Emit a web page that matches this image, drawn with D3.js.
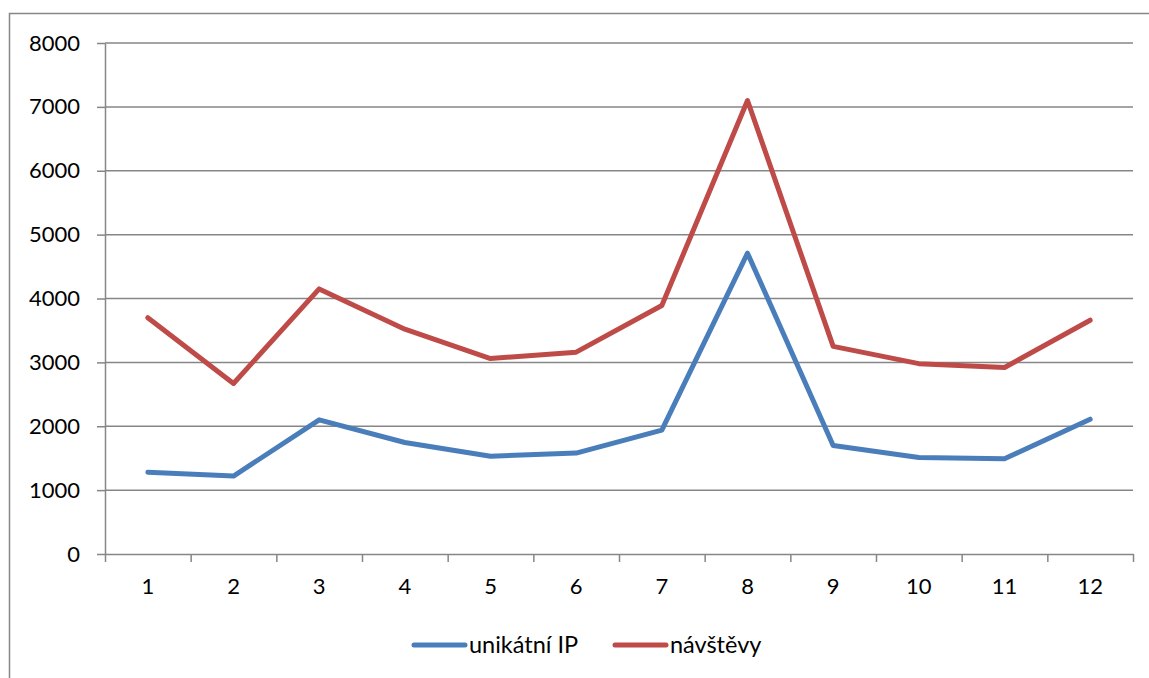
<!DOCTYPE html>
<html>
<head>
<meta charset="UTF-8">
<script src="https://d3js.org/d3.v7.min.js"></script>
<style>
  body { margin: 0; background: #fff; }
  text { font-family: Lato, "Open Sans", sans-serif; fill: #000; }
  .axis path, .axis line { stroke: #868686; stroke-width: 1.5; fill: none; }
  .grid line { stroke: #868686; stroke-width: 1.5; }
</style>
</head>
<body>
<svg id="chart" width="1149" height="678"></svg>
<script>
// ===== data =====
var months = ["1","2","3","4","5","6","7","8","9","10","11","12"];
var unikatniIP = [1280, 1220, 2100, 1745, 1530, 1580, 1940, 4710, 1700, 1510, 1490, 2110];
var navstevy   = [3700, 2670, 4150, 3520, 3060, 3160, 3890, 7100, 3250, 2980, 2920, 3660];
var yTicks = [0, 1000, 2000, 3000, 4000, 5000, 6000, 7000, 8000];
var seriesNames = ["unikátní IP", "návštěvy"];
var seriesColors = ["#4a7ebb", "#be4b48"];

var svg = d3.select("#chart");

// chart frame
svg.append("rect")
  .attr("x", 9.5).attr("y", 13.5)
  .attr("width", 1160).attr("height", 700)
  .attr("fill", "#fff").attr("stroke", "#868686").attr("stroke-width", 1.5);

var plotL = 105, plotR = 1133, plotT = 43, plotB = 554;

// ===== scales =====
var x = d3.scaleBand().domain(months).range([plotL, plotR]);
var xEdge = d3.scaleLinear().domain([0, months.length]).range([plotL, plotR]);
var y = d3.scaleLinear().domain([0, 8000]).range([plotB, plotT]);

// gridlines
svg.append("g").attr("class", "grid")
  .selectAll("line").data(yTicks.slice(1)).join("line")
  .attr("x1", plotL).attr("x2", plotR)
  .attr("y1", function(d) { return y(d); })
  .attr("y2", function(d) { return y(d); });

// y axis
var yAxis = svg.append("g").attr("class", "axis")
  .attr("transform", "translate(" + plotL + ",0)")
  .call(d3.axisLeft(y).tickValues(yTicks).tickFormat(d3.format("d"))
    .tickSizeInner(8).tickSizeOuter(0).tickPadding(17));
yAxis.selectAll("text").style("font-size", "22px");

// x axis: tick marks at band edges
svg.append("g").attr("class", "axis")
  .attr("transform", "translate(0," + plotB + ")")
  .call(d3.axisBottom(xEdge).tickValues(d3.range(months.length + 1)).tickFormat("")
    .tickSizeInner(8).tickSizeOuter(0));

// x labels
var xLab = svg.append("g").attr("class", "axis")
  .attr("transform", "translate(0," + plotB + ")")
  .call(d3.axisBottom(x).tickSize(0).tickPadding(24));
xLab.select(".domain").remove();
xLab.selectAll("text").style("font-size", "22px");

// ===== lines =====
var line = d3.line()
  .x(function(d, i) { return x(months[i]) + x.bandwidth() / 2; })
  .y(function(d) { return y(d); });

[unikatniIP, navstevy].forEach(function(s, k) {
  svg.append("path")
    .attr("d", line(s))
    .attr("fill", "none")
    .attr("stroke", seriesColors[k])
    .attr("stroke-width", 5)
    .attr("stroke-linejoin", "round")
    .attr("stroke-linecap", "round");
});

// ===== legend =====
var legendX = [414, 615];
var legend = svg.append("g");
seriesNames.forEach(function(n, k) {
  legend.append("line")
    .attr("x1", legendX[k]).attr("x2", legendX[k] + 51)
    .attr("y1", 645).attr("y2", 645)
    .attr("stroke", seriesColors[k]).attr("stroke-width", 5)
    .attr("stroke-linecap", "round");
  legend.append("text")
    .attr("x", legendX[k] + 55).attr("y", 653)
    .style("font-size", "23.5px")
    .text(n);
});
</script>
</body>
</html>
